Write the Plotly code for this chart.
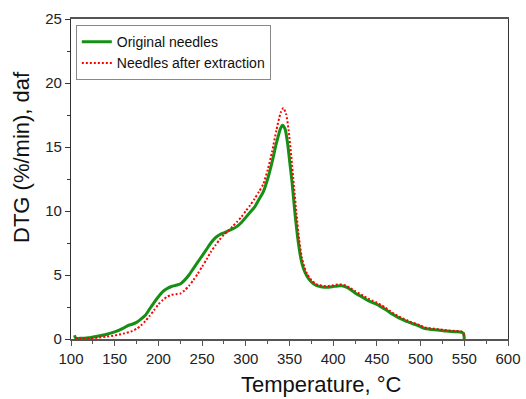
import plotly.graph_objects as go

# Original needles (green)
t_orig = [104, 105, 106, 110, 120, 130, 140, 150, 160, 165, 170, 175, 180, 185, 190, 195,
          200, 205, 210, 215, 220, 225, 230, 235, 240, 245, 250, 255, 260, 265, 270, 275,
          280, 285, 290, 295, 300, 305, 310, 315, 320, 325, 330, 335, 340, 342, 345, 348,
          350, 353, 356, 360, 363, 366, 370, 375, 380, 385, 390, 395, 400, 405, 410, 415,
          420, 425, 430, 435, 440, 445, 450, 455, 460, 465, 470, 475, 480, 485, 490, 495,
          500, 505, 510, 520, 530, 540, 547, 549, 550]
dtg_orig = [0.3, 0.12, 0.05, 0.05, 0.1, 0.22, 0.35, 0.55, 0.85, 1.05, 1.15, 1.3, 1.55, 1.85, 2.35, 2.85,
            3.3, 3.7, 3.95, 4.1, 4.2, 4.3, 4.6, 5.0, 5.5, 6.0, 6.5, 7.0, 7.5, 7.9, 8.15, 8.3,
            8.45, 8.6, 8.8, 9.1, 9.5, 9.9, 10.3, 10.9, 11.5, 12.5, 13.8, 15.3, 16.5, 16.7, 16.4, 15.2,
            14.0, 12.2, 10.0, 7.6, 6.3, 5.5, 4.9, 4.45, 4.2, 4.1, 4.05, 4.05, 4.1, 4.15, 4.15, 4.05,
            3.85, 3.6, 3.4, 3.2, 3.0, 2.85, 2.7, 2.5, 2.3, 2.05, 1.85, 1.65, 1.5, 1.35, 1.22, 1.1,
            0.95, 0.82, 0.77, 0.7, 0.62, 0.57, 0.52, 0.45, 0.0]

# Needles after extraction (red)
t_extr = [105, 110, 120, 130, 140, 150, 160, 170, 175, 180, 185, 190, 195, 200, 205, 210,
          215, 220, 225, 230, 235, 240, 245, 250, 255, 260, 265, 270, 275, 280, 285, 290,
          295, 300, 305, 310, 315, 320, 325, 330, 335, 340, 343, 346, 349, 352, 355, 358,
          361, 364, 367, 370, 375, 380, 385, 390, 395, 400, 405, 410, 415, 420, 425, 430,
          435, 440, 445, 450, 455, 460, 465, 470, 475, 480, 485, 490, 495, 500, 505, 510,
          520, 530, 540, 547, 549, 550]
dtg_extr = [0.08, 0.02, 0.05, 0.1, 0.18, 0.28, 0.42, 0.62, 0.8, 1.05, 1.4, 1.8, 2.25, 2.7, 3.05, 3.3,
            3.45, 3.5, 3.55, 3.8, 4.15, 4.6, 5.1, 5.65, 6.2, 6.8, 7.3, 7.75, 8.15, 8.45, 8.8, 9.15,
            9.55, 10.0, 10.45, 10.95, 11.5, 12.1, 13.2, 14.6, 16.3, 17.7, 18.05, 17.6, 16.3, 14.3, 12.0, 9.8,
            7.8, 6.4, 5.6, 5.1, 4.6, 4.3, 4.2, 4.15, 4.15, 4.2, 4.25, 4.25, 4.15, 3.95, 3.75, 3.55,
            3.35, 3.15, 3.0, 2.85, 2.65, 2.45, 2.2, 1.95, 1.75, 1.6, 1.45, 1.3, 1.18, 1.05, 0.9, 0.85,
            0.77, 0.68, 0.62, 0.58, 0.4, 0.05]

FONT = "Liberation Sans, Arial, sans-serif"

fig = go.Figure()
fig.add_trace(go.Scatter(x=t_orig, y=dtg_orig, mode="lines", name="Original needles",
                         line=dict(color="#159015", width=3, shape="spline", smoothing=0.6)))
fig.add_trace(go.Scatter(x=t_extr, y=dtg_extr, mode="lines", name="Needles after extraction",
                         line=dict(color="#ff0000", width=2, dash="2px,2px", shape="spline", smoothing=0.6)))

fig.update_layout(
    width=526, height=399,
    margin=dict(l=71, r=18, t=19, b=60, autoexpand=False),
    paper_bgcolor="white", plot_bgcolor="white",
    font=dict(family=FONT, size=15, color="#222"),
    showlegend=True,
    legend=dict(x=0.011, y=0.981, xanchor="left", yanchor="top",
                bordercolor="#888", borderwidth=1, bgcolor="white",
                font=dict(family=FONT, size=14, color="#111"),
                tracegroupgap=0, itemwidth=30),
    xaxis=dict(range=[100, 600], dtick=50, tick0=100, showgrid=False, zeroline=False,
               automargin=False,
               showline=True, linecolor="#555", linewidth=1.5, mirror=True,
               ticks="outside", ticklen=5, tickcolor="#555",
               minor=dict(dtick=25, ticks="outside", ticklen=3, tickcolor="#555", showgrid=False),
               tickfont=dict(family=FONT, size=15, color="#222")),
    yaxis=dict(range=[0, 25], dtick=5, tick0=0, showgrid=False, zeroline=False,
               automargin=False,
               showline=True, linecolor="#333", linewidth=1.2, mirror=True,
               ticks="outside", ticklen=5, tickcolor="#333",
               minor=dict(dtick=2.5, ticks="outside", ticklen=3, tickcolor="#333", showgrid=False),
               tickfont=dict(family=FONT, size=15, color="#222")),
    annotations=[
        dict(text="Temperature, °C", xref="paper", yref="paper", x=0.574, y=-0.143,
             xanchor="center", yanchor="middle", showarrow=False,
             font=dict(family=FONT, size=22, color="#111")),
        dict(text="DTG (%/min), daf", xref="paper", yref="paper", x=-0.112, y=0.569,
             xanchor="center", yanchor="middle", showarrow=False, textangle=-90,
             font=dict(family=FONT, size=22, color="#111")),
    ],
)

fig.write_html("out.html")
